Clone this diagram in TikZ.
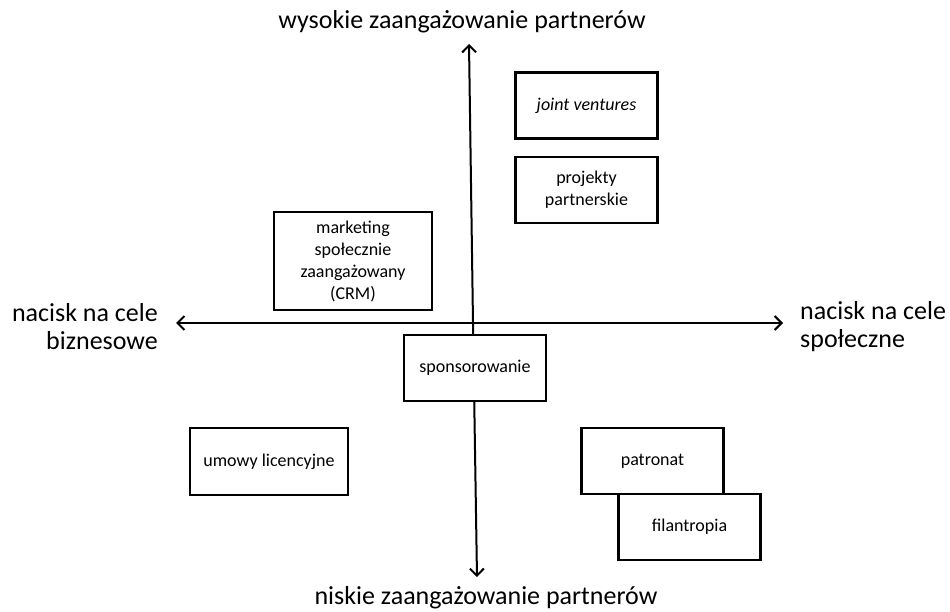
\documentclass[tikz,border=0pt]{standalone}
\usepackage{fontspec}
\setmainfont{Carlito}
\usetikzlibrary{arrows.meta}
\begin{document}
\begin{tikzpicture}[x=1bp,y=-1bp,
    box/.style={draw,fill=white,line width=2.8bp,minimum width=142bp,minimum height=66bp,
      inner sep=0pt,align=center,font=\fontsize{18bp}{22bp}\selectfont},
    wide/.style={box,minimum width=158bp},
    axislabel/.style={inner sep=0pt,font=\fontsize{26bp}{28bp}\selectfont},
    axis/.style={line width=2bp,-{Straight Barb[length=7bp,width=14bp]}}]
  \useasboundingbox (0,0) rectangle (950,612);
  % axes
  \coordinate (centre) at (473,323);
  \coordinate (top) at (469,44);
  \coordinate (bottom) at (477,577);
  \coordinate (left) at (176,323);
  \coordinate (right) at (783,323);
  \draw[axis] (centre) -- (top);
  \draw[axis] (centre) -- (bottom);
  \draw[axis] (centre) -- (left);
  \draw[axis] (centre) -- (right);
  % axis labels
  \node[axislabel] (high) at (462,22) {wysokie zaangażowanie partnerów};
  \node[axislabel] (low) at (486,598) {niskie zaangażowanie partnerów};
  \node[axislabel,anchor=east,align=right] (business) at (158,327) {nacisk na cele\\biznesowe};
  \node[axislabel,anchor=west,align=left] (social) at (800,327) {nacisk na cele\\społeczne};
  % forms of cooperation
  \node[box] (joint) at (586.5,105.5) {\textit{joint ventures}};
  \node[box] (projects) at (586.5,190) {projekty\\partnerskie};
  \node[wide,minimum height=98bp] (crm) at (353,261) {marketing\\społecznie\\zaangażowany\\(CRM)};
  \node[box] (sponsor) at (475,368) {sponsorowanie};
  \node[wide,minimum height=67bp] (licence) at (269,461.5) {umowy licencyjne};
  \node[box] (patron) at (652.5,461) {patronat};
  \node[box] (philanthropy) at (689.5,527) {filantropia};
\end{tikzpicture}
\end{document}
